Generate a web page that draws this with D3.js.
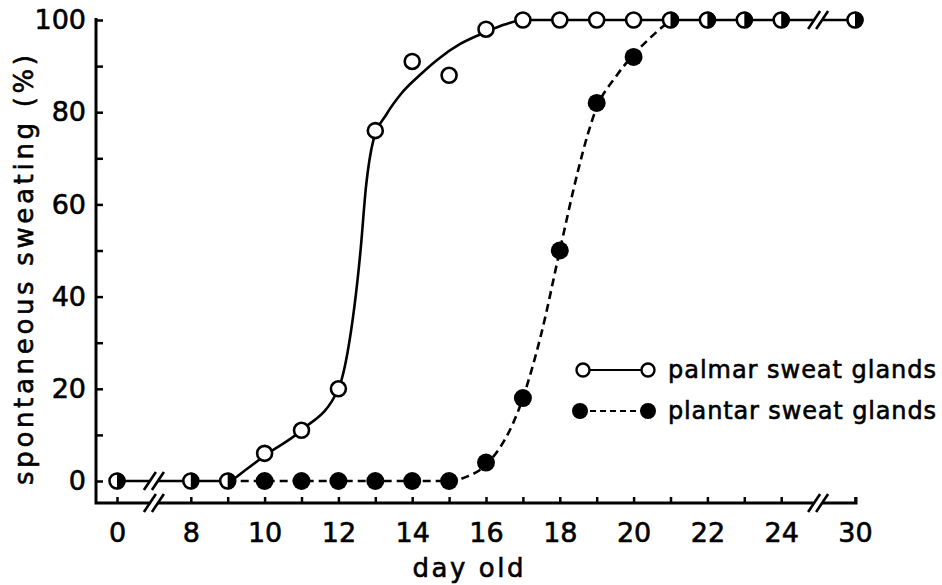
<!DOCTYPE html>
<html>
<head>
<meta charset="utf-8">
<script src="https://cdn.jsdelivr.net/npm/d3@7"></script>
<style>
  body { margin: 0; background: #fff; }
  text { font-family: "DejaVu Sans", sans-serif; fill: #000; stroke: #000; stroke-width: 0.6px; }
</style>
</head>
<body>
<div id="chart"></div>
<script>
// measured points
var days    = [0, 8, 9, 10, 11, 12, 13, 14, 15, 16, 17, 18, 19, 20, 21, 22, 23, 24, 30];
var palmar  = [0, 0, 0, 6, 11, 20, 76, 91, 88, 98, 100, 100, 100, 100, 100, 100, 100, 100, 100];
var plantar = [0, 0, 0, 0, 0, 0, 0, 0, 0, 4, 18, 50, 82, 92, 100, 100, 100, 100, 100];

// hand drawn fitted curves
var palmarFitDay = [0, 8, 9, 9.5, 10, 11, 12, 12.25, 12.6, 12.75, 12.95, 13.3, 13.7, 14.2, 14.7, 15.3, 16, 16.5, 17, 24, 30];
var palmarFitVal = [0, 0, 0, 2.5, 5.5, 11, 20, 28, 50, 64, 74, 79.5, 84, 88, 91.5, 94.8, 97.4, 99, 100, 100, 100];
var plantarFitDay = [9, 15, 15.5, 16, 17, 17.5, 18, 18.5, 18.75, 19, 19.5, 20, 20.5, 21];
var plantarFitVal = [0, 0, 1, 3.5, 18, 32, 50, 67.5, 75, 81, 87.5, 92.5, 96.5, 100];

var xTicks = [0, 8, 9, 10, 11, 12, 13, 14, 15, 16, 17, 18, 19, 20, 21, 22, 23, 24, 30];
var xLabels = [0, 8, 10, 12, 14, 16, 18, 20, 22, 24, 30];
var yTicks = [0, 10, 20, 30, 40, 50, 60, 70, 80, 90, 100];
var yLabels = [0, 20, 40, 60, 80, 100];
var breakDays = [7, 25]; // axis positions of the "//" marks

var width = 942, height = 585;
var axisY = 503, axisX = 96, axisEnd = 856;

// broken axis: day 0 sits two slots left of 8, day 30 two slots right of 24
function slot(d) {
    if (d == 0) return 6;
    if (d == 30) return 26;
    return d;
}

var x = d3.scaleLinear().domain([6, 26]).range([117, 855]);
var y = d3.scaleLinear().domain([0, 100]).range([481, 20]);

var svg = d3.select("#chart").append("svg")
    .attr("width", width)
    .attr("height", height);

// axes
var xAxis = d3.axisBottom(x)
    .tickValues(xTicks.map(slot))
    .tickSizeInner(-6)
    .tickSizeOuter(0)
    .tickPadding(20)
    .tickFormat(function(p) {
        var d = xTicks[xTicks.map(slot).indexOf(p)];
        return xLabels.indexOf(d) >= 0 ? d : "";
    });

var gx = svg.append("g")
    .attr("transform", "translate(0," + axisY + ")")
    .call(xAxis);
gx.select(".domain").remove();
gx.selectAll("line").attr("stroke", "#000").attr("stroke-width", 2.5);
gx.selectAll("text").style("font-size", "27px").style("font-family", "DejaVu Sans");

var yAxis = d3.axisLeft(y)
    .tickValues(yTicks)
    .tickSizeInner(-7)
    .tickSizeOuter(0)
    .tickPadding(10)
    .tickFormat(function(d) { return yLabels.indexOf(d) >= 0 ? d : ""; });

var gy = svg.append("g")
    .attr("transform", "translate(" + axisX + ",0)")
    .call(yAxis);
gy.select(".domain").remove();
gy.selectAll("line").attr("stroke", "#000").attr("stroke-width", 2.5);
gy.selectAll("text").style("font-size", "27px").style("font-family", "DejaVu Sans");

svg.append("path")
    .attr("d", "M" + axisX + "," + (y(100) - 2) + "V" + axisY + "H" + axisEnd + "V" + (axisY - 6))
    .attr("fill", "none")
    .attr("stroke", "#000")
    .attr("stroke-width", 3);

// curves
var line = d3.line()
    .x(function(d) { return x(slot(d[0])); })
    .y(function(d) { return y(d[1]); })
    .curve(d3.curveMonotoneX);

svg.append("path")
    .datum(d3.zip(palmarFitDay, palmarFitVal))
    .attr("d", line)
    .attr("fill", "none")
    .attr("stroke", "#000")
    .attr("stroke-width", 2.6);

svg.append("path")
    .datum(d3.zip(plantarFitDay, plantarFitVal))
    .attr("d", line)
    .attr("fill", "none")
    .attr("stroke", "#000")
    .attr("stroke-width", 2.6)
    .attr("stroke-dasharray", "8,5");

// break marks
function breakMark(cx, cy) {
    svg.append("rect")
        .attr("x", cx - 4).attr("y", cy - 3)
        .attr("width", 8).attr("height", 6)
        .attr("fill", "#fff");
    [-4, 4].forEach(function(o) {
        svg.append("line")
            .attr("x1", cx + o - 6).attr("y1", cy + 9)
            .attr("x2", cx + o + 6).attr("y2", cy - 9)
            .attr("stroke", "#000")
            .attr("stroke-width", 2.6);
    });
}
breakMark(x(breakDays[0]), axisY);
breakMark(x(breakDays[0]), y(0));
breakMark(x(breakDays[1]), axisY);
breakMark(x(breakDays[1]), y(100));

// markers
var rOpen = 7.5, rFull = 9;
var halfArc = d3.arc().innerRadius(0).outerRadius(rOpen + 1).startAngle(0).endAngle(Math.PI);

days.forEach(function(d, i) {
    var px = x(slot(d));
    if (palmar[i] == plantar[i]) {
        svg.append("circle")
            .attr("cx", px).attr("cy", y(palmar[i])).attr("r", rOpen)
            .attr("fill", "#fff").attr("stroke", "#000").attr("stroke-width", 2.6);
        svg.append("path")
            .attr("d", halfArc())
            .attr("transform", "translate(" + px + "," + y(plantar[i]) + ")")
            .attr("fill", "#000");
    } else {
        svg.append("circle")
            .attr("cx", px).attr("cy", y(plantar[i])).attr("r", rFull)
            .attr("fill", "#000");
        svg.append("circle")
            .attr("cx", px).attr("cy", y(palmar[i])).attr("r", rOpen)
            .attr("fill", "#fff").attr("stroke", "#000").attr("stroke-width", 2.6);
    }
});

// legend
var legend = svg.append("g");
legend.append("line")
    .attr("x1", 583).attr("y1", 370).attr("x2", 648).attr("y2", 370)
    .attr("stroke", "#000").attr("stroke-width", 2.2);
[583, 648].forEach(function(cx) {
    legend.append("circle")
        .attr("cx", cx).attr("cy", 370).attr("r", 6.5)
        .attr("fill", "#fff").attr("stroke", "#000").attr("stroke-width", 2.4);
});
legend.append("line")
    .attr("x1", 580).attr("y1", 411).attr("x2", 648).attr("y2", 411)
    .attr("stroke", "#000").attr("stroke-width", 2.2)
    .attr("stroke-dasharray", "6,4");
[580, 648].forEach(function(cx) {
    legend.append("circle")
        .attr("cx", cx).attr("cy", 411).attr("r", 8)
        .attr("fill", "#000");
});
legend.append("text")
    .attr("x", 668).attr("y", 378)
    .attr("textLength", 268).attr("lengthAdjust", "spacing")
    .style("font-size", "24px")
    .text("palmar sweat glands");
legend.append("text")
    .attr("x", 668).attr("y", 419)
    .attr("textLength", 268).attr("lengthAdjust", "spacing")
    .style("font-size", "24px")
    .text("plantar sweat glands");

// axis titles
svg.append("text")
    .attr("x", 468).attr("y", 577)
    .attr("text-anchor", "middle")
    .attr("textLength", 111).attr("lengthAdjust", "spacing")
    .style("font-size", "26px")
    .text("day old");

svg.append("text")
    .attr("transform", "translate(33,270) rotate(-90)")
    .attr("text-anchor", "middle")
    .attr("textLength", 430).attr("lengthAdjust", "spacing")
    .style("font-size", "26px")
    .text("spontaneous sweating (%)");
</script>
</body>
</html>
